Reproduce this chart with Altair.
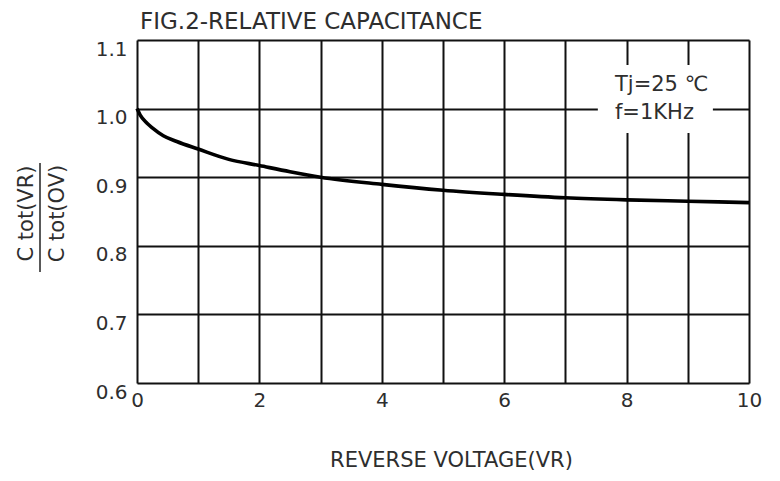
import altair as alt
import pandas as pd

# Curve: relative capacitance vs reverse voltage
vr = [0, 0.05, 0.16, 0.25, 0.43, 0.65, 1.0, 1.5, 2.0, 2.5, 3.0, 4.0, 5.0, 6.0, 7.0, 8.0, 9.0, 10.0]
ratio = [1.0, 0.991, 0.979, 0.972, 0.9605, 0.952, 0.941, 0.926, 0.917, 0.908, 0.900, 0.8895, 0.881, 0.875, 0.870, 0.867, 0.865, 0.863]

x_ticks = list(range(0, 11))
y_ticks = [0.6, 0.65, 0.7, 0.75, 0.8, 0.85, 0.9, 0.95, 1.0, 1.05, 1.1]

note_lines = ["Tj=25 ℃", "f=1KHz"]
note_x = [7.81, 7.81]
note_y = [1.0344, 0.9929]
box = {"x": [7.53], "x2": [9.41], "y": [1.0636], "y2": [0.9644]}

FONT = "DejaVu Sans"
TXT = "#2e2e2e"

curve_df = pd.DataFrame({"vr": vr, "ratio": ratio})
note_df = pd.DataFrame({"t": note_lines, "x": note_x, "y": note_y})
box_df = pd.DataFrame(box)

xscale = alt.Scale(domain=[0, 10], nice=False, zero=False)
yscale = alt.Scale(domain=[0.6, 1.1], nice=False, zero=False)

x_axis = alt.Axis(
    values=x_ticks,
    labelExpr="datum.value % 2 == 0 ? format(datum.value, 'd') : ''",
    grid=True, gridColor="#111111", gridWidth=2, gridOpacity=1,
    ticks=False, domain=False,
    labelFont=FONT, labelFontSize=20, labelColor=TXT, labelPadding=7,
    labelBaseline="top", labelFlush=False,
    title="REVERSE VOLTAGE(VR)", titleFont=FONT, titleFontSize=21,
    titleFontWeight="normal", titleColor=TXT, titleX=314, titleY=66,
    titleBaseline="top", titleAlign="center",
)
y_axis = alt.Axis(
    values=y_ticks,
    labelExpr="abs(datum.value*10 - round(datum.value*10)) < 0.01 ? format(datum.value, '.1f') : ''",
    grid=True, gridColor="#111111", gridWidth=2, gridOpacity=1,
    ticks=False, domain=False,
    labelFont=FONT, labelFontSize=20, labelColor=TXT, labelPadding=10,
    labelBaseline="top", labelOffset=-1, labelFlush=False,
    title=["C tot(VR)", "C tot(OV)"], titleFont=FONT, titleFontSize=21,
    titleFontWeight="normal", titleColor=TXT, titleAngle=270,
    titleX=-111, titleY=173, titleAlign="center", titleBaseline="middle",
    titleLineHeight=31,
)

base_curve = alt.Chart(curve_df).mark_line(
    color="#000000", strokeWidth=3.6, interpolate="monotone", clip=False
).encode(
    x=alt.X("vr:Q", scale=xscale, axis=x_axis),
    y=alt.Y("ratio:Q", scale=yscale, axis=y_axis),
)

box_layer = alt.Chart(box_df).mark_rect(fill="white", stroke=None).encode(
    x=alt.X("x:Q", scale=xscale), x2="x2:Q",
    y=alt.Y("y:Q", scale=yscale), y2="y2:Q",
)

note_layer = alt.Chart(note_df).mark_text(
    font=FONT, fontSize=21, color=TXT, align="left", baseline="middle"
).encode(
    x=alt.X("x:Q", scale=xscale),
    y=alt.Y("y:Q", scale=yscale),
    text="t:N",
)

frac_bar = alt.Chart(curve_df.head(1)).mark_rule(color="#222222", strokeWidth=1.5, clip=False).encode(
    x=alt.value(-97), y=alt.value(123), y2=alt.value(232)
)

chart = alt.layer(box_layer, base_curve, note_layer, frac_bar).properties(
    width=612, height=343,
    padding={"left": 129, "top": 32, "right": 23, "bottom": 90},
    autosize=alt.AutoSizeParams(type="none"),
    title=alt.TitleParams(
        "FIG.2-RELATIVE CAPACITANCE", anchor="start", frame="group", font=FONT,
        fontSize=23, fontWeight="normal", color=TXT, offset=5, dx=3,
    ),
).configure_view(
    stroke="#000000", strokeWidth=2.6
).configure(background="white")

chart.save("out.html", embed_options={"renderer": "svg", "actions": False})
